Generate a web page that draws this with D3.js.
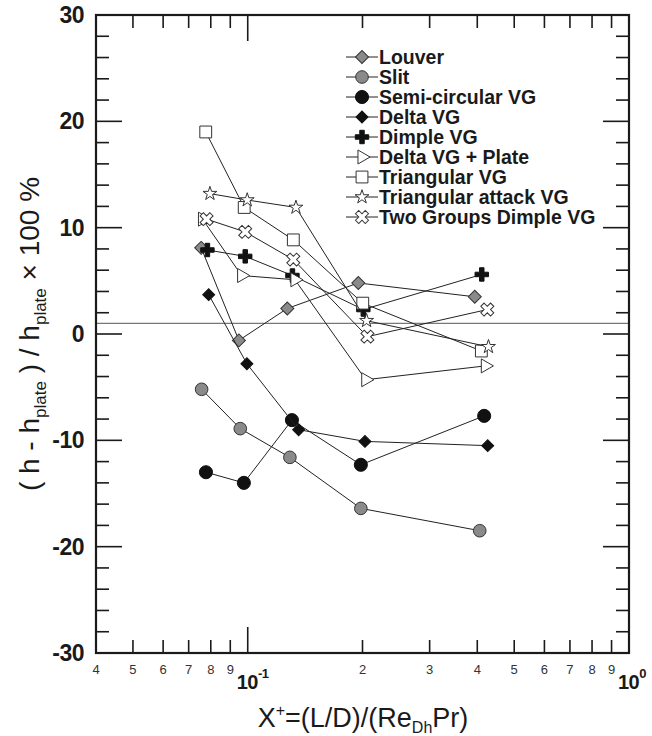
<!DOCTYPE html>
<html>
<head>
<meta charset="utf-8">
<script src="https://cdn.jsdelivr.net/npm/d3@7"></script>
<style>
  body { margin: 0; background: #fff; }
  svg { display: block; font-family: "Liberation Sans", Arial, sans-serif; }
</style>
</head>
<body>
<div class="chart"></div>
<script>
(function(){
  // data
  var seriesNames = ["Louver", "Slit", "Semi-circular VG", "Delta VG", "Dimple VG",
                     "Delta VG + Plate", "Triangular VG", "Triangular attack VG", "Two Groups Dimple VG"];
  var louverX   = [0.0755, 0.0948, 0.127, 0.195, 0.394];
  var louverY   = [8.1, -0.6, 2.4, 4.8, 3.5];
  var slitX     = [0.0757, 0.0956, 0.129, 0.198, 0.406];
  var slitY     = [-5.2, -8.9, -11.6, -16.4, -18.5];
  var semiX     = [0.0777, 0.0977, 0.1306, 0.198, 0.417];
  var semiY     = [-13.0, -14.0, -8.1, -12.3, -7.7];
  var deltaX    = [0.079, 0.0995, 0.136, 0.203, 0.426];
  var deltaY    = [3.7, -2.8, -9.0, -10.1, -10.5];
  var dimpleX   = [0.0784, 0.0985, 0.131, 0.201, 0.411];
  var dimpleY   = [7.9, 7.3, 5.5, 2.3, 5.6];
  var plateX    = [0.0761, 0.0964, 0.133, 0.204, 0.42];
  var plateY    = [10.8, 5.5, 5.1, -4.3, -3.0];
  var triX      = [0.0776, 0.0979, 0.1317, 0.2003, 0.41];
  var triY      = [19.0, 11.9, 8.85, 2.9, -1.6];
  var attackX   = [0.0796, 0.0997, 0.1338, 0.205, 0.428];
  var attackY   = [13.2, 12.6, 11.9, 1.25, -1.2];
  var twoX      = [0.078, 0.0985, 0.1317, 0.206, 0.425];
  var twoY      = [10.8, 9.6, 7.0, -0.25, 2.3];
  var refLineY  = 1;
  var yTicks    = [-30, -20, -10, 0, 10, 20, 30];
  var xMinorLabels = [0.04, 0.05, 0.06, 0.07, 0.08, 0.09, 0.2, 0.3, 0.4, 0.5, 0.6, 0.7, 0.8, 0.9];
  var xMajorLabels = [{v: 0.1, exp: "-1"}, {v: 1, exp: "0"}];

  var width = 652, height = 736;
  var plot = {left: 96, right: 629, top: 15, bottom: 653};

  var svg = d3.select(".chart").append("svg")
              .attr("width", width).attr("height", height);

  var x = d3.scaleLog().domain([0.04, 1]).range([plot.left, plot.right]);
  var y = d3.scaleLinear().domain([-30, 30]).range([plot.bottom, plot.top]);

  //ticks, all pointing inward
  var ink = "#1a1a1a";
  var g = svg.append("g");
  var yMinor = d3.range(-30, 31, 2);
  yMinor.forEach(function(v){
    var len = (v % 10 === 0) ? 26 : 13;
    g.append("line").attr("x1", plot.left).attr("x2", plot.left + len)
     .attr("y1", y(v)).attr("y2", y(v)).attr("stroke", ink).attr("stroke-width", 1.6);
    g.append("line").attr("x1", plot.right).attr("x2", plot.right - len)
     .attr("y1", y(v)).attr("y2", y(v)).attr("stroke", ink).attr("stroke-width", 1.6);
  });
  var xTickVals = d3.range(4, 10).map(function(d){ return d / 100; })
                    .concat(d3.range(1, 10).map(function(d){ return d / 10; }));
  xTickVals.forEach(function(v){
    var len = (Math.abs(v - 0.1) < 1e-9) ? 26 : 13;
    g.append("line").attr("x1", x(v)).attr("x2", x(v))
     .attr("y1", plot.bottom).attr("y2", plot.bottom - len).attr("stroke", ink).attr("stroke-width", 1.6);
    g.append("line").attr("x1", x(v)).attr("x2", x(v))
     .attr("y1", plot.top).attr("y2", plot.top + len).attr("stroke", ink).attr("stroke-width", 1.6);
  });

  //reference line
  svg.append("line").attr("x1", plot.left).attr("x2", plot.right)
     .attr("y1", y(refLineY)).attr("y2", y(refLineY))
     .attr("stroke", "#777").attr("stroke-width", 1.4);

  //frame
  svg.append("rect").attr("x", plot.left).attr("y", plot.top)
     .attr("width", plot.right - plot.left).attr("height", plot.bottom - plot.top)
     .attr("fill", "none").attr("stroke", ink).attr("stroke-width", 2.2);

  //y tick labels
  yTicks.forEach(function(v){
    svg.append("text").attr("x", 84).attr("y", y(v) + 8)
       .attr("text-anchor", "end").attr("font-size", 23).attr("font-weight", "bold")
       .attr("letter-spacing", -0.5).attr("fill", ink).text(v);
  });
  //x tick labels
  xMinorLabels.forEach(function(v){
    svg.append("text").attr("x", x(v)).attr("y", 674)
       .attr("text-anchor", "middle").attr("font-size", 13).attr("fill", "#333")
       .text(Math.round(v * (v < 0.1 ? 100 : 10)));
  });
  xMajorLabels.forEach(function(d){
    var t = svg.append("text").attr("x", x(d.v) - 11).attr("y", 689)
       .attr("font-size", 20).attr("font-weight", "bold").attr("letter-spacing", -0.5).attr("fill", ink);
    t.append("tspan").text("10");
    t.append("tspan").attr("dy", -11).attr("font-size", 13).text(d.exp);
  });

  //axis titles
  var xt = svg.append("text").attr("x", 363).attr("y", 727)
              .attr("text-anchor", "middle").attr("font-size", 27).attr("fill", ink);
  xt.append("tspan").text("X");
  xt.append("tspan").attr("dy", -11).attr("font-size", 16).text("+");
  xt.append("tspan").attr("dy", 11).text("=(L/D)/(Re");
  xt.append("tspan").attr("dy", 6).attr("font-size", 16).text("Dh");
  xt.append("tspan").attr("dy", -6).text("Pr)");

  var yt = svg.append("text").attr("transform", "translate(39," + y(0) + ") rotate(-90)")
              .attr("text-anchor", "middle").attr("font-size", 28).attr("fill", ink);
  yt.append("tspan").text("( h - h");
  yt.append("tspan").attr("dy", 7).attr("font-size", 17).text("plate");
  yt.append("tspan").attr("dy", -7).text(" ) / h");
  yt.append("tspan").attr("dy", 7).attr("font-size", 17).text("plate");
  yt.append("tspan").attr("dy", -7).text(" \u00d7 100 %");

  //marker styles
  var gray = "#8a8a8a", black = "#111", white = "#fff";
  var styles = [
    {type: d3.symbolSquare, size: 85, rot: 45, fill: gray, stroke: "#333"},
    {type: d3.symbolCircle, size: 125, rot: 0, fill: gray, stroke: "#333"},
    {type: d3.symbolCircle, size: 135, rot: 0, fill: black, stroke: black},
    {type: d3.symbolSquare, size: 72, rot: 45, fill: black, stroke: black},
    {type: d3.symbolCross, size: 100, rot: 0, fill: black, stroke: black},
    {type: d3.symbolTriangle, size: 85, rot: 90, fill: white, stroke: "#333"},
    {type: d3.symbolSquare, size: 140, rot: 0, fill: white, stroke: "#333"},
    {type: d3.symbolStar, size: 60, rot: 0, fill: white, stroke: "#333"},
    {type: d3.symbolCross, size: 105, rot: 45, fill: white, stroke: "#333"}
  ];
  var xs = [louverX, slitX, semiX, deltaX, dimpleX, plateX, triX, attackX, twoX];
  var ys = [louverY, slitY, semiY, deltaY, dimpleY, plateY, triY, attackY, twoY];

  var line = d3.line().x(function(d){ return x(d[0]); }).y(function(d){ return y(d[1]); });
  var drawMarker = function(parent, st, px, py){
    parent.append("path").attr("d", d3.symbol().type(st.type).size(st.size)())
          .attr("transform", "translate(" + px + "," + py + ") rotate(" + st.rot + ")")
          .attr("fill", st.fill).attr("stroke", st.stroke).attr("stroke-width", 1);
  };

  seriesNames.forEach(function(name, i){
    var pts = d3.zip(xs[i], ys[i]);
    var sg = svg.append("g");
    sg.append("path").attr("d", line(pts)).attr("fill", "none")
      .attr("stroke", "#222").attr("stroke-width", 1);
    pts.forEach(function(p){ drawMarker(sg, styles[i], x(p[0]), y(p[1])); });
  });

  //legend
  var lg = svg.append("g");
  seriesNames.forEach(function(name, i){
    var ly = 57 + i * 20;
    lg.append("line").attr("x1", 346).attr("x2", 378).attr("y1", ly).attr("y2", ly)
      .attr("stroke", "#222").attr("stroke-width", 1);
    drawMarker(lg, styles[i], 362, ly);
    lg.append("text").attr("x", 379).attr("y", ly + 7)
      .attr("font-size", 19.5).attr("font-weight", "bold").attr("fill", ink).text(name);
  });
})()
</script>
</body>
</html>
